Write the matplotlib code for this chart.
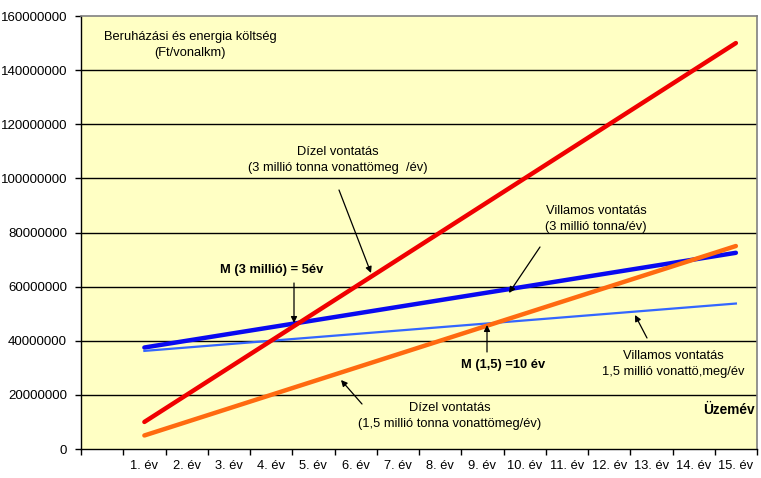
import matplotlib
matplotlib.use("Agg")
import matplotlib.pyplot as plt

plt.rcParams.update({
    "font.family": ["Liberation Sans", "DejaVu Sans"],
    "font.size": 9,
})

# Categories: first slot is empty, then 1..15 év
CATEGORIES = [""] + [f"{i}. év" for i in range(1, 16)]
YEAR_POS = list(range(1, 16))  # category index of 1. év ... 15. év

DIESEL_3 = [10e6, 20e6, 30e6, 40e6, 50e6, 60e6, 70e6, 80e6, 90e6, 100e6,
            110e6, 120e6, 130e6, 140e6, 150e6]
ELECTRIC_3 = [37.5e6, 40e6, 42.5e6, 45e6, 47.5e6, 50e6, 52.5e6, 55e6, 57.5e6,
              60e6, 62.5e6, 65e6, 67.5e6, 70e6, 72.5e6]
DIESEL_15 = [5e6, 10e6, 15e6, 20e6, 25e6, 30e6, 35e6, 40e6, 45e6, 50e6,
             55e6, 60e6, 65e6, 70e6, 75e6]
ELECTRIC_15 = [36.25e6, 37.5e6, 38.75e6, 40e6, 41.25e6, 42.5e6, 43.75e6, 45e6,
               46.25e6, 47.5e6, 48.75e6, 50e6, 51.25e6, 52.5e6, 53.75e6]

Y_TICKS = [0, 20e6, 40e6, 60e6, 80e6, 100e6, 120e6, 140e6, 160e6]

BG = "#FFFFC4"
COL_RED = "#F00000"
COL_BLUE = "#0A0AF0"
COL_BLUE_THIN = "#3366FF"
COL_ORANGE = "#FF6A10"

W, H = 761, 478
AX_L, AX_R, AX_T, AX_B = 81, 757, 16, 449

fig = plt.figure(figsize=(W / 100, H / 100), dpi=100)
ax = fig.add_axes([AX_L / W, (H - AX_B) / H, (AX_R - AX_L) / W, (AX_B - AX_T) / H])
ax.set_facecolor(BG)
ax.set_xlim(0, len(CATEGORIES))
ax.set_ylim(0, 160e6)


def px(x, y):
    """Pixel position in the image -> data coordinates."""
    xd = (x - AX_L) / (AX_R - AX_L) * len(CATEGORIES)
    yd = (AX_B - y) / (AX_B - AX_T) * 160e6
    return xd, yd


xs = [p + 0.5 for p in YEAR_POS]

for v in Y_TICKS[1:-1]:
    ax.axhline(v, color="black", linewidth=1.0, zorder=1)

ax.plot(xs, ELECTRIC_3, color=COL_BLUE, linewidth=3.2, zorder=3,
        solid_capstyle="round")
ax.plot(xs, ELECTRIC_15, color=COL_BLUE_THIN, linewidth=1.6, zorder=3)
ax.plot(xs, DIESEL_3, color=COL_RED, linewidth=3.2, zorder=4,
        solid_capstyle="round")
ax.plot(xs, DIESEL_15, color=COL_ORANGE, linewidth=3.2, zorder=4,
        solid_capstyle="round")

# Axes styling
ax.set_yticks(Y_TICKS)
ax.set_yticklabels([f"{int(v)}" for v in Y_TICKS], fontsize=9.5)
ax.tick_params(axis="y", direction="out", length=4, width=1, pad=6)

ax.set_xticks(range(len(CATEGORIES) + 1))
ax.set_xticklabels([])
ax.set_xticks([i + 0.5 for i in range(len(CATEGORIES))], minor=True)
ax.set_xticklabels(CATEGORIES, minor=True, fontsize=9.3)
ax.tick_params(axis="x", which="major", direction="out", length=4, width=1)
ax.tick_params(axis="x", which="minor", length=0, pad=8)

for s in ("left", "bottom"):
    ax.spines[s].set_color("black")
    ax.spines[s].set_linewidth(1.0)
for s in ("top", "right"):
    ax.spines[s].set_color("#808080")
    ax.spines[s].set_linewidth(1.2)

FS = 9.3


# Texts
def label(x, y, s, **kw):
    ax.text(*px(x, y), s, ha="center", va="center", zorder=6, **kw)


label(190, 37, "Beruházási és energia költség", fontsize=FS)
label(190, 53, "(Ft/vonalkm)", fontsize=FS)
label(338, 152, "Dízel vontatás", fontsize=FS)
label(338, 168, "(3 millió tonna vonattömeg  /év)", fontsize=FS)
label(272, 270, "M (3 millió) = 5év", fontsize=FS, fontweight="bold")
label(596, 211, "Villamos vontatás", fontsize=FS)
label(596, 227, "(3 millió tonna/év)", fontsize=FS)
label(503, 365, "M (1,5) =10 év", fontsize=FS, fontweight="bold")
label(673, 356, "Villamos vontatás", fontsize=FS)
label(673, 372, "1,5 millió vonattö,meg/év", fontsize=FS)
label(450, 408, "Dízel vontatás", fontsize=FS)
label(450, 424, "(1,5 millió tonna vonattömeg/év)", fontsize=FS)
ax.text(*px(755, 410), "Üzemév", ha="right", va="center", fontsize=9.8,
        fontweight="bold", zorder=6)

# Arrows (tail pixel -> head pixel)
ARROWS = [
    ((339, 190), (371, 273)),
    ((294, 283), (294, 323)),
    ((540, 247), (509, 293)),
    ((487, 352), (487, 325)),
    ((647, 338), (635, 315)),
    ((362, 404), (341, 380)),
]
for tail, head in ARROWS:
    ax.annotate("", xy=px(*head), xytext=px(*tail),
                arrowprops=dict(arrowstyle="-|>", color="black", lw=0.9,
                                mutation_scale=9, shrinkA=0, shrinkB=0),
                zorder=7)

fig.savefig("out.png", dpi=100, facecolor="white")
